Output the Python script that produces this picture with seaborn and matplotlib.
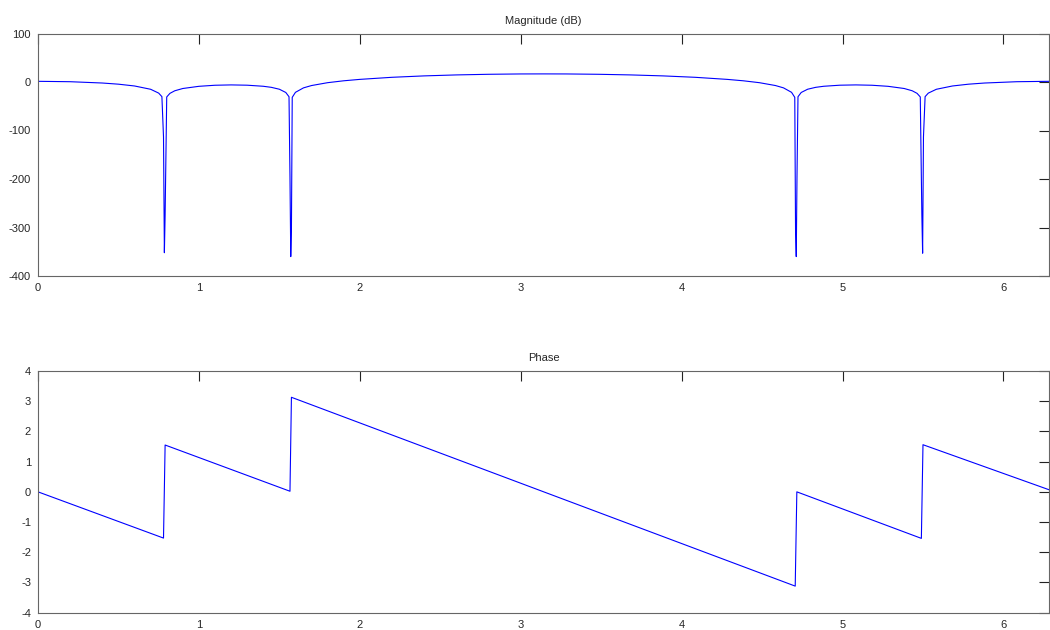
import numpy as np
import pandas as pd
import matplotlib
matplotlib.use("Agg")
import matplotlib.pyplot as plt
import seaborn as sns

# magnitude response (dB)
mag_w = [0.0, 0.2, 0.4, 0.5, 0.6, 0.7, 0.75, 0.77, 0.780, 0.7854, 0.790, 0.80,
         0.82, 0.85, 0.9, 1.0, 1.1, 1.2, 1.3, 1.4, 1.45, 1.5, 1.54, 1.56,
         1.566, 1.5708, 1.575, 1.58, 1.60, 1.65, 1.7, 1.8, 1.9, 2.0, 2.2, 2.4,
         2.6, 2.8, 3.0, 3.1416,
         3.2832, 3.4832, 3.6832, 3.8832, 4.0832, 4.2832, 4.3832, 4.4832, 4.5832,
         4.6332, 4.6832, 4.7032, 4.708, 4.7124, 4.717, 4.7232, 4.7432, 4.7832,
         4.8332, 4.8832, 4.9832, 5.0832, 5.1832, 5.2832, 5.3832, 5.4332, 5.4632,
         5.4832, 5.493, 5.4978, 5.503, 5.5132, 5.5332, 5.5832, 5.6832, 5.7832,
         5.8832, 6.0832, 6.2832]
mag_db = [1.4, 0.6, -2.1, -4.5, -8.2, -15.0, -22.9, -30.2, -113, -352, -274, -30.8,
          -23.4, -18.1, -13.4, -8.9, -6.7, -6.0, -6.6, -8.8, -11.0, -14.9, -21.6, -30.4,
          -195, -360, -305, -31.6, -21.3, -12.1, -7.3, -1.4, 2.5, 5.4, 9.7, 12.6,
          14.6, 15.9, 16.6, 16.7,
          16.6, 15.9, 14.6, 12.6, 9.7, 5.4, 2.5, -1.4, -7.3,
          -12.1, -21.3, -31.6, -305, -360, -195, -30.4, -21.6, -14.9,
          -11.0, -8.8, -6.6, -6.0, -6.7, -8.9, -13.4, -18.1, -23.4,
          -30.8, -274, -353, -113, -30.2, -22.9, -15.0, -8.2, -4.5,
          -2.1, 0.6, 1.4]

# phase (rad)
ph_w = [0.0, 0.780, 0.790, 1.566, 1.575, 4.706, 4.716, 5.490, 5.500, 6.2832]
ph_val = [0.0, -1.53, 1.55, 0.02, 3.13, -3.12, 0.0, -1.54, 1.56, 0.07]

mag = pd.DataFrame({"w": mag_w, "db": mag_db})
ph = pd.DataFrame({"w": ph_w, "phase": ph_val})

sns.set_style("white")
plt.rcParams["font.family"] = ["Liberation Sans", "DejaVu Sans"]
plt.rcParams["axes.unicode_minus"] = False

fig = plt.figure(figsize=(10.5, 6.3), dpi=100)
ax1 = fig.add_axes([38 / 1050, 1 - 276 / 630, 1011 / 1050, 242.5 / 630])
ax2 = fig.add_axes([38 / 1050, 1 - 612.7 / 630, 1011 / 1050, 241.7 / 630])

sns.lineplot(data=mag, x="w", y="db", ax=ax1, estimator=None, sort=False,
             color="#0000ff", linewidth=0.8)
sns.lineplot(data=ph, x="w", y="phase", ax=ax2, estimator=None, sort=False,
             color="#0000ff", linewidth=0.8)

ax1.set_ylim(-400, 100)
ax1.set_yticks(np.arange(-400, 101, 100))
ax1.set_title("Magnitude (dB)", fontsize=8, pad=7)
ax2.set_ylim(-4, 4)
ax2.set_yticks(np.arange(-4, 5, 1))
ax2.set_title("Phase", fontsize=8, pad=7)

for ax in (ax1, ax2):
    ax.set_xlim(0, 2 * np.pi)
    ax.set_xticks(range(7))
    ax.set_xlabel("")
    ax.set_ylabel("")
    ax.tick_params(direction="in", length=7.5, width=0.8, top=True, right=True,
                   labelsize=8, pad=5, color="#222222")
    for s in ax.spines.values():
        s.set_color("#666666")
        s.set_linewidth(0.8)

fig.savefig("out.png", dpi=100)
